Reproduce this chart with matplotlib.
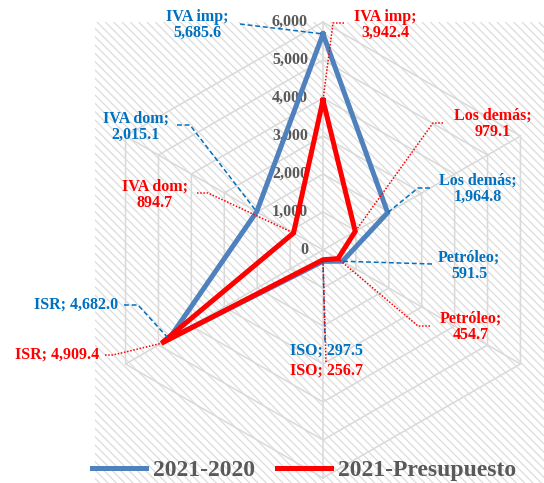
import numpy as np
import matplotlib
matplotlib.use('Agg')
import matplotlib.pyplot as plt
from matplotlib.patches import Rectangle
from matplotlib.lines import Line2D
from matplotlib.transforms import IdentityTransform

# ---- data ----
categories = ['IVA imp', 'Los demás', 'Petróleo', 'ISO', 'ISR', 'IVA dom']
series_names = ['2021-2020', '2021-Presupuesto']
vals_2020 = [5685.6, 1964.8, 591.5, 297.5, 4682.0, 2015.1]
vals_presup = [3942.4, 979.1, 454.7, 256.7, 4909.4, 894.7]
r_ticks = [0, 1000, 2000, 3000, 4000, 5000, 6000]
r_tick_labels = ['0', '1,000', '2,000', '3,000', '4,000', '5,000', '6,000']
two_line = [True, True, True, False, False, True]

# ---- layout (image pixel coords) ----
W, H = 544, 483
cx, cy, R = 323, 250, 228
blue_text_pos = [(197, 25), (478, 189), (469, 266), (327, 351), (76, 305), (136, 127)]
blue_lead_start = [(240, 24), (430, 188), (432, 264), (325, 341), (124, 305), (177, 125)]
blue_lead_arm = [0, -12, 0, 0, 14, 13]
red_text_pos = [(385, 25), (493, 124), (471, 327), (327, 371), (57, 355), (155, 195)]
red_lead_start = [(344, 23), (443, 123), (430, 326), (326, 362), (105, 355), (197, 193)]
red_lead_arm = [-11, -10, -12, 0, 8, 11]

BLUE_LINE = '#4F81BD'
RED = '#FF0000'
BLUE_TXT = '#0070C0'
GRAY_TXT = '#595959'
GRID = '#D9D9D9'

plt.rcParams['font.family'] = ['Liberation Serif', 'DejaVu Serif']
plt.rcParams['font.weight'] = 'bold'
plt.rcParams['hatch.color'] = '#DCDCDC'
plt.rcParams['hatch.linewidth'] = 0.9

fig = plt.figure(figsize=(W / 100, H / 100), dpi=100)

bg = Rectangle((95 / W, 0), (W - 95) / W, (H - 22) / H, transform=fig.transFigure,
               facecolor='white', edgecolor='#DCDCDC', linewidth=0,
               hatch='\\\\\\\\', zorder=-1)
fig.patches.append(bg)

ax = fig.add_axes([(cx - R) / W, (H - cy - R) / H, 2 * R / W, 2 * R / H], projection='polar')
ax.set_theta_zero_location('N')
ax.set_theta_direction(-1)
ax.set_ylim(0, r_ticks[-1])
ax.set_facecolor('none')
ax.grid(False)
ax.spines['polar'].set_visible(False)
ax.set_xticks([])
ax.set_yticks([])

n = len(categories)
theta = np.arange(n) * 2 * np.pi / n
theta_c = np.r_[theta, theta[0]]

for r in r_ticks[1:]:
    ax.plot(theta_c, [r] * (n + 1), color=GRID, lw=1.1, zorder=1, clip_on=False)
for t in theta:
    ax.plot([t, t], [0, r_ticks[-1]], color=GRID, lw=1.1, zorder=1, clip_on=False)

for r, lab in zip(r_ticks, r_tick_labels):
    ax.annotate(lab, xy=(0, r), xytext=(-15, 0), textcoords='offset pixels',
                ha='right', va='center', fontsize=11.5, color=GRAY_TXT,
                fontweight='bold', annotation_clip=False, zorder=3)

l1, = ax.plot(theta_c, np.r_[vals_2020, vals_2020[0]], color=BLUE_LINE, lw=3.6,
              solid_joinstyle='miter', zorder=4, clip_on=False)
l2, = ax.plot(theta_c, np.r_[vals_presup, vals_presup[0]], color=RED, lw=3.6,
              solid_joinstyle='miter', zorder=5, clip_on=False)


def fmt(cat, v, two):
    sep = '\n' if two else ' '
    return f"{cat};{sep}{v:,.1f}"


def labels(vals, tpos, lstart, larm, tcolor, dashes, lw):
    for i, (cat, v) in enumerate(zip(categories, vals)):
        px, py = ax.transData.transform((theta[i], v))
        sx, sy = lstart[i]
        sy = H - sy
        xs = [sx]
        ys = [sy]
        if larm[i]:
            xs.append(sx + larm[i])
            ys.append(sy)
        xs.append(px)
        ys.append(py)
        ln = Line2D(xs, ys, transform=IdentityTransform(), color=tcolor, lw=lw,
                    linestyle=dashes, zorder=6)
        fig.add_artist(ln)
        tx, ty = tpos[i]
        fig.text(tx / W, 1 - ty / H, fmt(cat, v, two_line[i]), ha='center', va='center',
                 color=tcolor, fontsize=11.5, fontweight='bold', linespacing=1.05)


labels(vals_2020, blue_text_pos, blue_lead_start, blue_lead_arm, BLUE_TXT, (0, (3.2, 1.8)), 1.1)
labels(vals_presup, red_text_pos, red_lead_start, red_lead_arm, RED, (0, (1, 1.1)), 1.1)

leg = fig.legend([l1, l2], series_names, loc='center', bbox_to_anchor=(304 / W, 1 - 470 / H),
                 ncol=2, frameon=False, prop=dict(size=17, weight='bold'),
                 handlelength=2.3, handletextpad=0.3, columnspacing=0.9, labelcolor=GRAY_TXT)

fig.savefig('out.png', dpi=100)
